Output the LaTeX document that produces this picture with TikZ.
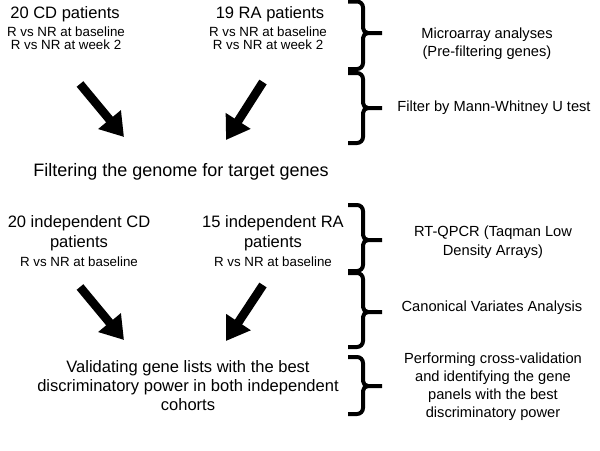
\documentclass[tikz,border=0pt]{standalone}
\usepackage{fontspec}
\setmainfont{Liberation Sans}
\usetikzlibrary{arrows.meta}
\tikzset{
  big/.style={align=center,inner sep=0pt,font=\fontsize{12.4}{15}\selectfont},
  small/.style={align=center,inner sep=0pt,font=\fontsize{10}{9.75}\selectfont},
  side/.style={align=center,inner sep=0pt,font=\fontsize{11}{13.5}\selectfont},
  fatarrow/.style={line width=6.5pt,-{Triangle[length=17pt,width=21pt]}},
  bracepath/.style={line width=3pt,line cap=butt,line join=round}
}
\newcommand{\mybrace}[3]{% top, mid, bottom (px)
  \draw[bracepath] (348,#1) -- (357,#1) to[out=0,in=90] (363,#1+6) -- (363,#2-5)
     to[out=-90,in=180] (368,#2) -- (382,#2);
  \draw[bracepath] (368,#2) to[out=180,in=90] (363,#2+5) -- (363,#3-6)
     to[out=-90,in=0] (357,#3) -- (348,#3);
}
\begin{document}
\begin{tikzpicture}[x=0.75pt,y=-0.75pt]
\useasboundingbox (0,0) rectangle (600,450);
% top block
\node[big] (cd1) at (65,14) {20 CD patients};
\node[small] (cd1s) at (66,38.5) {R vs NR at baseline\\R vs NR at week 2};
\node[big] (ra1) at (270,14) {19 RA patients};
\node[small] (ra1s) at (268,38.5) {R vs NR at baseline\\R vs NR at week 2};
\node[side] (micro) at (487,44) {Microarray analyses\\(Pre-filtering genes)};
\node[side] (mann) at (494,108) {Filter by Mann-Whitney U test};
\mybrace{1.5}{33}{69}
\mybrace{73}{108}{143}
% arrows top
\coordinate (a1s) at (80,84);
\coordinate (a1e) at (124,137);
\coordinate (a2s) at (263,82);
\coordinate (a2e) at (226,140);
\draw[fatarrow] (a1s) -- (a1e);
\draw[fatarrow] (a2s) -- (a2e);
% middle
\node[inner sep=0pt,font=\fontsize{13.5}{16}\selectfont] (filt) at (181,172) {Filtering the genome for target genes};
% second block
\node[big] (cd2) at (79,233) {20 independent CD\\patients};
\node[small] (cd2s) at (79,262) {R vs NR at baseline};
\node[big] (ra2) at (273,233) {15 independent RA\\patients};
\node[small] (ra2s) at (273,262) {R vs NR at baseline};
\node[side,font=\fontsize{11}{14.25}\selectfont] (rtq) at (493,242.5) {RT-QPCR (Taqman Low\\Density Arrays)};
\node[side] (cva) at (492,308) {Canonical Variates Analysis};
\node[side] (perf) at (493,387) {Performing cross-validation\\and identifying the gene\\panels with the best\\discriminatory power};
\mybrace{205}{240}{271}
\mybrace{273}{312}{347}
\mybrace{357}{386}{414}
% arrows bottom
\coordinate (a3s) at (80,287);
\coordinate (a3e) at (124,340);
\coordinate (a4s) at (263,285);
\coordinate (a4e) at (226,341);
\draw[fatarrow] (a3s) -- (a3e);
\draw[fatarrow] (a4s) -- (a4e);
% bottom
\node[big,font=\fontsize{12.4}{14.25}\selectfont] (valid) at (188,386) {Validating gene lists with the best\\discriminatory power in both independent\\cohorts};
\end{tikzpicture}
\end{document}
